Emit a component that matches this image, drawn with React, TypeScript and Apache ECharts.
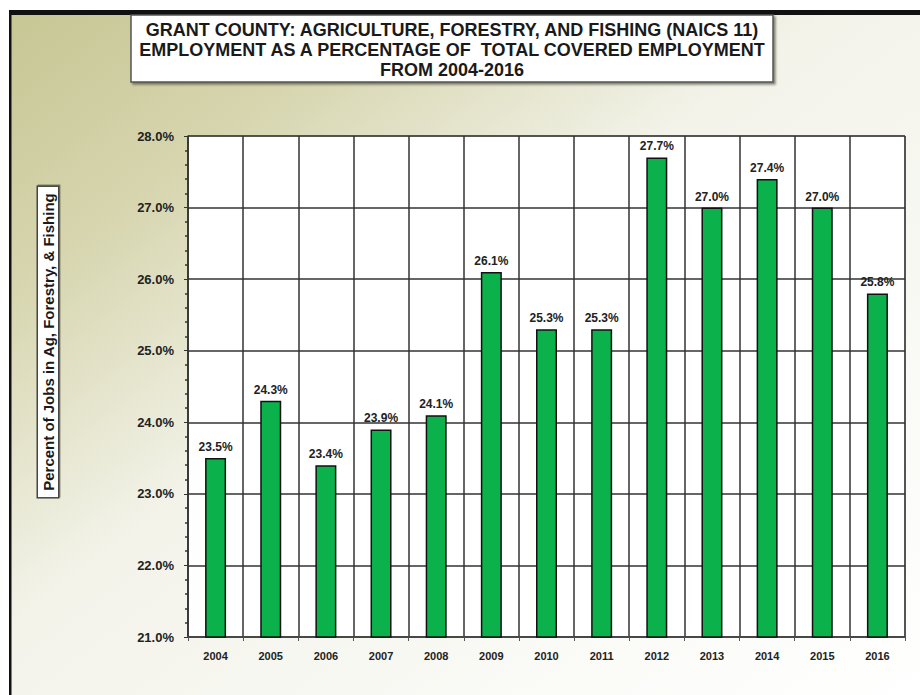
import React, { useEffect, useRef } from "react";
import * as echarts from "echarts";

const years = ["2004", "2005", "2006", "2007", "2008", "2009", "2010", "2011", "2012", "2013", "2014", "2015", "2016"];
const shares = [23.5, 24.3, 23.4, 23.9, 24.1, 26.1, 25.3, 25.3, 27.7, 27.0, 27.4, 27.0, 25.8];
const titleLines = [
  "GRANT COUNTY: AGRICULTURE, FORESTRY, AND FISHING (NAICS 11)",
  "EMPLOYMENT AS A PERCENTAGE OF  TOTAL COVERED EMPLOYMENT",
  "FROM 2004-2016",
];
const yAxisTitle = "Percent of Jobs in Ag, Forestry, & Fishing";

const FONT = "'Liberation Sans Narrow', 'Arial Narrow', 'Liberation Sans', Arial, sans-serif";

export default function App() {
  const ref = useRef<HTMLDivElement>(null);
  useEffect(() => {
    if (!ref.current) return;
    const chart = echarts.init(ref.current, undefined, { renderer: "svg" });
    chart.setOption({
      animation: false,
      backgroundColor: "#ffffff",
      graphic: [
        {
          type: "rect",
          z: -10,
          shape: { x: 10, y: 14, width: 910, height: 681 },
          style: {
            fill: new echarts.graphic.LinearGradient(0, 0, 1, 1, [
              { offset: 0, color: "#c7c694" },
              { offset: 0.2, color: "#d6d5ae" },
              { offset: 0.45, color: "#f3f3ea" },
              { offset: 1, color: "#ffffff" },
            ]),
          },
        },
        { type: "rect", z: 5, shape: { x: 9, y: 10, width: 911, height: 5 }, style: { fill: "#111" } },
        { type: "rect", z: 5, shape: { x: 9, y: 10, width: 2.5, height: 685 }, style: { fill: "#111" } },
        {
          type: "rect",
          z: 5,
          shape: { x: 131, y: 15, width: 642, height: 67 },
          style: {
            fill: "#ffffff",
            stroke: "#555",
            lineWidth: 1.5,
            shadowColor: "rgba(60,60,40,0.6)",
            shadowBlur: 2,
            shadowOffsetX: 2,
            shadowOffsetY: 2,
          },
        },
        {
          type: "text",
          z: 6,
          x: 452,
          y: 20,
          style: {
            text: titleLines.join("\n"),
            align: "center",
            verticalAlign: "top",
            font: `bold 18px ${FONT}`,
            lineHeight: 20,
            fill: "#1a1a1a",
          },
        },
        {
          type: "text",
          z: 6,
          x: 48,
          y: 342,
          rotation: Math.PI / 2,
          style: {
            text: yAxisTitle,
            align: "center",
            verticalAlign: "middle",
            font: `bold 15px ${FONT}`,
            fill: "#1a1a1a",
            backgroundColor: "#ffffff",
            borderColor: "#444",
            borderWidth: 1.5,
            padding: [3, 6, 2, 6],
            shadowColor: "rgba(60,60,40,0.5)",
            shadowOffsetX: 1,
            shadowOffsetY: 1,
          },
        },
      ],
      grid: {
        left: 188,
        right: 15,
        top: 136,
        bottom: 58,
        show: true,
        backgroundColor: "#ffffff",
        borderColor: "#777",
        borderWidth: 1,
      },
      xAxis: {
        type: "category",
        data: years,
        axisLine: { lineStyle: { color: "#444", width: 1.5 } },
        axisTick: { show: true, length: 4, lineStyle: { color: "#555" } },
        splitLine: { show: true, lineStyle: { color: "#333", width: 1.5 } },
        axisLabel: { color: "#222", fontFamily: FONT, fontWeight: "bold", fontSize: 11, margin: 13 },
      },
      yAxis: {
        type: "value",
        min: 21,
        max: 28,
        interval: 1,
        axisLine: { show: true, lineStyle: { color: "#333", width: 1.5 } },
        axisTick: { show: true, length: 4, lineStyle: { color: "#333" } },
        minorTick: { show: true, splitNumber: 5, length: 3, lineStyle: { color: "#333", width: 1.5 } },
        splitLine: { show: true, lineStyle: { color: "#333", width: 1.5 } },
        axisLabel: {
          color: "#222",
          fontFamily: FONT,
          fontWeight: "bold",
          fontSize: 13,
          margin: 14,
          formatter: (v: number) => v.toFixed(1) + "%",
        },
      },
      series: [
        {
          type: "bar",
          data: shares,
          barWidth: 21,
          itemStyle: { color: "#0bb24c", borderColor: "#111", borderWidth: 1.5 },
          label: {
            show: true,
            position: "top",
            distance: 5,
            color: "#222",
            fontFamily: FONT,
            fontWeight: "bold",
            fontSize: 12,
            formatter: (p: any) => Number(p.value).toFixed(1) + "%",
          },
        },
      ],
    });
    return () => chart.dispose();
  }, []);
  return <div ref={ref} style={{ position: "fixed", left: 0, top: 0, width: 920, height: 695 }} />;
}
